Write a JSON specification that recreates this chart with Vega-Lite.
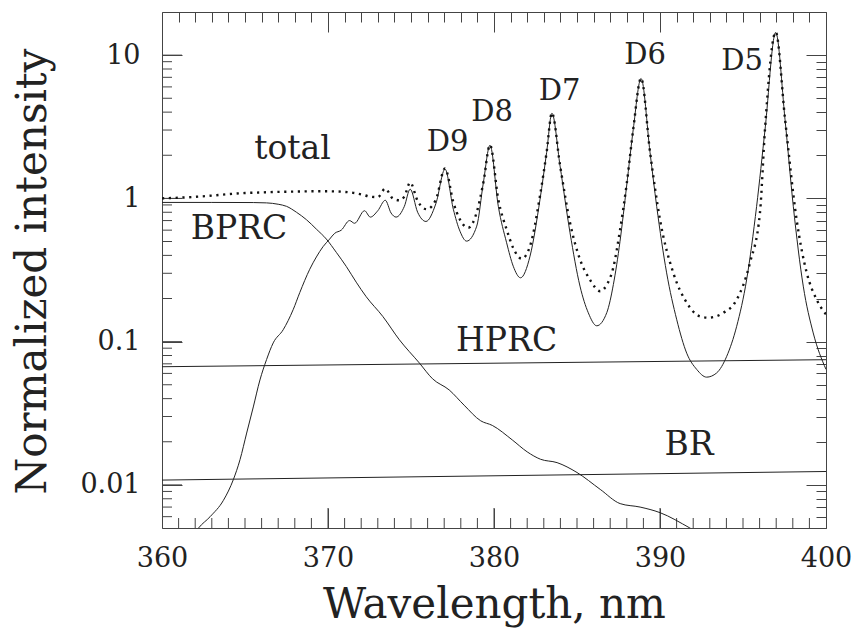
{
  "$schema": "https://vega.github.io/schema/vega-lite/v6.json",
  "width": 664,
  "height": 516,
  "autosize": {"type": "none"},
  "padding": {"left": 162, "top": 12, "right": 32, "bottom": 102},
  "background": "white",
  "config": {
    "view": {"stroke": null},
    "axis": {
      "grid": false,
      "domainColor": "#444",
      "tickColor": "#444",
      "domainWidth": 1,
      "tickWidth": 1,
      "labelFont": "DejaVu Serif",
      "titleFont": "DejaVu Serif",
      "labelColor": "#222",
      "titleColor": "#222",
      "titleFontWeight": "normal",
      "labelFlush": false,
      "labelOverlap": false
    }
  },
  "datasets": {
    "curves": [
      {"s": "main", "x": 361.8, "y": 0.0043},
      {"s": "main", "x": 362.2, "y": 0.005},
      {"s": "main", "x": 362.9, "y": 0.006},
      {"s": "main", "x": 363.7, "y": 0.0078},
      {"s": "main", "x": 364.3, "y": 0.0109},
      {"s": "main", "x": 364.7, "y": 0.015},
      {"s": "main", "x": 365.1, "y": 0.023},
      {"s": "main", "x": 365.5, "y": 0.035},
      {"s": "main", "x": 365.9, "y": 0.054},
      {"s": "main", "x": 366.3, "y": 0.075},
      {"s": "main", "x": 366.7, "y": 0.098},
      {"s": "main", "x": 367.3, "y": 0.121},
      {"s": "main", "x": 367.9, "y": 0.167},
      {"s": "main", "x": 368.3, "y": 0.22},
      {"s": "main", "x": 368.9, "y": 0.32},
      {"s": "main", "x": 369.3, "y": 0.39},
      {"s": "main", "x": 369.7, "y": 0.46},
      {"s": "main", "x": 370.1, "y": 0.52},
      {"s": "main", "x": 370.4, "y": 0.57},
      {"s": "main", "x": 370.8, "y": 0.6},
      {"s": "main", "x": 371.3, "y": 0.7},
      {"s": "main", "x": 371.6, "y": 0.67},
      {"s": "main", "x": 372.2, "y": 0.82},
      {"s": "main", "x": 372.55, "y": 0.74},
      {"s": "main", "x": 373.0, "y": 0.82},
      {"s": "main", "x": 373.45, "y": 0.97},
      {"s": "main", "x": 373.8, "y": 0.79},
      {"s": "main", "x": 374.1, "y": 0.74},
      {"s": "main", "x": 374.6, "y": 0.88},
      {"s": "main", "x": 374.95, "y": 1.16},
      {"s": "main", "x": 375.4, "y": 0.8},
      {"s": "main", "x": 375.9, "y": 0.69},
      {"s": "main", "x": 376.5, "y": 0.92},
      {"s": "main", "x": 377.05, "y": 1.6},
      {"s": "main", "x": 377.55, "y": 0.84},
      {"s": "main", "x": 377.95, "y": 0.59},
      {"s": "main", "x": 378.35, "y": 0.503},
      {"s": "main", "x": 378.96, "y": 0.64},
      {"s": "main", "x": 379.36, "y": 1.29},
      {"s": "main", "x": 379.76, "y": 2.35},
      {"s": "main", "x": 380.26, "y": 0.88},
      {"s": "main", "x": 380.76, "y": 0.49},
      {"s": "main", "x": 381.16, "y": 0.336},
      {"s": "main", "x": 381.6, "y": 0.279},
      {"s": "main", "x": 382.17, "y": 0.395},
      {"s": "main", "x": 382.77, "y": 0.98},
      {"s": "main", "x": 383.17, "y": 2.09},
      {"s": "main", "x": 383.49, "y": 3.93},
      {"s": "main", "x": 383.98, "y": 1.68},
      {"s": "main", "x": 384.58, "y": 0.575},
      {"s": "main", "x": 385.18, "y": 0.244},
      {"s": "main", "x": 385.68, "y": 0.159},
      {"s": "main", "x": 386.19, "y": 0.129},
      {"s": "main", "x": 386.8, "y": 0.16},
      {"s": "main", "x": 387.19, "y": 0.25},
      {"s": "main", "x": 387.59, "y": 0.5},
      {"s": "main", "x": 387.99, "y": 1.22},
      {"s": "main", "x": 388.39, "y": 3.04},
      {"s": "main", "x": 388.86, "y": 6.87},
      {"s": "main", "x": 389.4, "y": 2.09},
      {"s": "main", "x": 389.8, "y": 0.88},
      {"s": "main", "x": 390.4, "y": 0.302},
      {"s": "main", "x": 391.01, "y": 0.142},
      {"s": "main", "x": 391.61, "y": 0.083},
      {"s": "main", "x": 392.21, "y": 0.064},
      {"s": "main", "x": 392.81, "y": 0.0565},
      {"s": "main", "x": 393.41, "y": 0.0604},
      {"s": "main", "x": 394.02, "y": 0.079},
      {"s": "main", "x": 394.62, "y": 0.128},
      {"s": "main", "x": 395.22, "y": 0.271},
      {"s": "main", "x": 395.82, "y": 0.88},
      {"s": "main", "x": 396.33, "y": 3.04},
      {"s": "main", "x": 396.97, "y": 14.4},
      {"s": "main", "x": 397.53, "y": 3.57},
      {"s": "main", "x": 398.03, "y": 0.88},
      {"s": "main", "x": 398.63, "y": 0.244},
      {"s": "main", "x": 399.23, "y": 0.115},
      {"s": "main", "x": 400.0, "y": 0.064},
      {"s": "BPRC", "x": 360.0, "y": 0.937},
      {"s": "BPRC", "x": 363.0, "y": 0.937},
      {"s": "BPRC", "x": 365.5, "y": 0.935},
      {"s": "BPRC", "x": 366.3, "y": 0.93},
      {"s": "BPRC", "x": 367.0, "y": 0.91},
      {"s": "BPRC", "x": 367.5, "y": 0.88},
      {"s": "BPRC", "x": 368.1, "y": 0.8},
      {"s": "BPRC", "x": 368.7, "y": 0.71},
      {"s": "BPRC", "x": 369.3, "y": 0.61},
      {"s": "BPRC", "x": 369.9, "y": 0.52},
      {"s": "BPRC", "x": 370.5, "y": 0.42},
      {"s": "BPRC", "x": 371.1, "y": 0.335},
      {"s": "BPRC", "x": 371.7, "y": 0.26},
      {"s": "BPRC", "x": 372.3, "y": 0.206},
      {"s": "BPRC", "x": 373.3, "y": 0.15},
      {"s": "BPRC", "x": 374.3, "y": 0.103},
      {"s": "BPRC", "x": 375.5, "y": 0.071},
      {"s": "BPRC", "x": 376.3, "y": 0.055},
      {"s": "BPRC", "x": 377.3, "y": 0.046},
      {"s": "BPRC", "x": 378.2, "y": 0.036},
      {"s": "BPRC", "x": 379.2, "y": 0.028},
      {"s": "BPRC", "x": 379.9, "y": 0.026},
      {"s": "BPRC", "x": 381.1, "y": 0.0206},
      {"s": "BPRC", "x": 382.0, "y": 0.017},
      {"s": "BPRC", "x": 382.8, "y": 0.0151},
      {"s": "BPRC", "x": 383.8, "y": 0.0143},
      {"s": "BPRC", "x": 385.0, "y": 0.0122},
      {"s": "BPRC", "x": 386.4, "y": 0.0093},
      {"s": "BPRC", "x": 387.6, "y": 0.0074},
      {"s": "BPRC", "x": 388.8, "y": 0.007},
      {"s": "BPRC", "x": 390.0, "y": 0.0064},
      {"s": "BPRC", "x": 391.8, "y": 0.005},
      {"s": "BPRC", "x": 392.5, "y": 0.0045},
      {"s": "HPRC", "x": 360.0, "y": 0.0668},
      {"s": "HPRC", "x": 400.0, "y": 0.0748},
      {"s": "BR", "x": 360.0, "y": 0.0108},
      {"s": "BR", "x": 400.0, "y": 0.0124}
    ],
    "total": [
      {"x": 360.0, "y": 1.0},
      {"x": 361.0, "y": 1.01},
      {"x": 362.0, "y": 1.025},
      {"x": 363.0, "y": 1.045},
      {"x": 364.0, "y": 1.07},
      {"x": 365.0, "y": 1.09},
      {"x": 366.0, "y": 1.1},
      {"x": 367.0, "y": 1.11},
      {"x": 368.0, "y": 1.115},
      {"x": 369.0, "y": 1.12},
      {"x": 370.0, "y": 1.12},
      {"x": 371.0, "y": 1.11},
      {"x": 371.6, "y": 1.09},
      {"x": 372.1, "y": 1.06},
      {"x": 372.5, "y": 1.03},
      {"x": 373.0, "y": 1.02},
      {"x": 373.45, "y": 1.17},
      {"x": 373.9, "y": 1.0},
      {"x": 374.3, "y": 0.97},
      {"x": 374.6, "y": 1.03},
      {"x": 374.95, "y": 1.29},
      {"x": 375.4, "y": 0.96},
      {"x": 375.95, "y": 0.84},
      {"x": 376.5, "y": 0.98},
      {"x": 377.05, "y": 1.62},
      {"x": 377.55, "y": 0.94},
      {"x": 377.95, "y": 0.71},
      {"x": 378.45, "y": 0.624},
      {"x": 378.96, "y": 0.8},
      {"x": 379.36, "y": 1.29},
      {"x": 379.76, "y": 2.36},
      {"x": 380.26, "y": 0.98},
      {"x": 380.76, "y": 0.607},
      {"x": 381.16, "y": 0.45},
      {"x": 381.67, "y": 0.379},
      {"x": 382.17, "y": 0.464},
      {"x": 382.77, "y": 1.04},
      {"x": 383.17, "y": 2.1},
      {"x": 383.49, "y": 3.95},
      {"x": 383.98, "y": 1.7},
      {"x": 384.58, "y": 0.676},
      {"x": 385.18, "y": 0.375},
      {"x": 385.78, "y": 0.271},
      {"x": 386.39, "y": 0.225},
      {"x": 386.8, "y": 0.25},
      {"x": 387.19, "y": 0.33},
      {"x": 387.59, "y": 0.6},
      {"x": 387.99, "y": 1.25},
      {"x": 388.39, "y": 3.05},
      {"x": 388.86, "y": 6.9},
      {"x": 389.4, "y": 2.1},
      {"x": 390.0, "y": 0.71},
      {"x": 390.8, "y": 0.302},
      {"x": 391.61, "y": 0.187},
      {"x": 392.41, "y": 0.15},
      {"x": 392.91, "y": 0.147},
      {"x": 393.82, "y": 0.159},
      {"x": 394.62, "y": 0.196},
      {"x": 395.42, "y": 0.355},
      {"x": 396.02, "y": 0.79},
      {"x": 396.33, "y": 3.1},
      {"x": 396.97, "y": 14.5},
      {"x": 397.53, "y": 3.6},
      {"x": 398.23, "y": 0.71},
      {"x": 398.84, "y": 0.302},
      {"x": 399.44, "y": 0.196},
      {"x": 400.0, "y": 0.155}
    ],
    "dlabels": [
      {"label": "D9", "x": 377.2, "y": 2.14},
      {"label": "D8", "x": 379.88, "y": 3.47},
      {"label": "D7", "x": 383.95, "y": 4.85},
      {"label": "D6", "x": 389.1, "y": 8.65},
      {"label": "D5", "x": 394.94, "y": 7.85}
    ],
    "nlabels": [
      {"label": "total", "x": 367.86, "y": 1.874},
      {"label": "BPRC", "x": 364.64, "y": 0.517},
      {"label": "HPRC", "x": 380.76, "y": 0.0856},
      {"label": "BR", "x": 391.75, "y": 0.0162}
    ],
    "xmajor": [{"x": 370}, {"x": 380}, {"x": 390}],
    "xminor": [
      {"x": 361}, {"x": 362}, {"x": 363}, {"x": 364}, {"x": 365}, {"x": 366}, {"x": 367}, {"x": 368}, {"x": 369},
      {"x": 371}, {"x": 372}, {"x": 373}, {"x": 374}, {"x": 375}, {"x": 376}, {"x": 377}, {"x": 378}, {"x": 379},
      {"x": 381}, {"x": 382}, {"x": 383}, {"x": 384}, {"x": 385}, {"x": 386}, {"x": 387}, {"x": 388}, {"x": 389},
      {"x": 391}, {"x": 392}, {"x": 393}, {"x": 394}, {"x": 395}, {"x": 396}, {"x": 397}, {"x": 398}, {"x": 399}
    ],
    "ymajor": [{"y": 0.01}, {"y": 0.1}, {"y": 1}, {"y": 10}],
    "yminor": [
      {"y": 0.006}, {"y": 0.007}, {"y": 0.008}, {"y": 0.009},
      {"y": 0.02}, {"y": 0.03}, {"y": 0.04}, {"y": 0.05}, {"y": 0.06}, {"y": 0.07}, {"y": 0.08}, {"y": 0.09},
      {"y": 0.2}, {"y": 0.3}, {"y": 0.4}, {"y": 0.5}, {"y": 0.6}, {"y": 0.7}, {"y": 0.8}, {"y": 0.9},
      {"y": 2}, {"y": 3}, {"y": 4}, {"y": 5}, {"y": 6}, {"y": 7}, {"y": 8}, {"y": 9}
    ]
  },
  "layer": [
    {
      "data": {"name": "dlabels"},
      "mark": {"type": "text", "font": "DejaVu Serif", "fontSize": 29, "color": "#222", "align": "center", "baseline": "alphabetic"},
      "encoding": {
        "x": {
          "field": "x", "type": "quantitative",
          "scale": {"domain": [360, 400], "nice": false, "zero": false},
          "axis": {
            "orient": "bottom", "values": [360, 370, 380, 390, 400], "tickSize": -20,
            "labelPadding": 37, "labelFontSize": 27, "labelBaseline": "top",
            "title": "Wavelength, nm", "titleFontSize": 42, "titleX": 332, "titleY": 89,
            "titleBaseline": "alphabetic", "titleAnchor": "middle", "titleAlign": "center"
          }
        },
        "y": {
          "field": "y", "type": "quantitative",
          "scale": {"type": "log", "domain": [0.005, 20], "nice": false},
          "axis": {
            "orient": "left", "values": [0.01, 0.1, 1, 10], "format": "~g", "tickSize": -20,
            "labelPadding": 42, "labelFontSize": 27,
            "title": "Normalized intensity", "titleFontSize": 42, "titleX": -117, "titleY": 259,
            "titleAngle": -90, "titleBaseline": "alphabetic", "titleAlign": "center"
          }
        },
        "text": {"field": "label", "type": "nominal"}
      }
    },
    {
      "data": {"name": "nlabels"},
      "mark": {"type": "text", "font": "DejaVu Serif", "fontSize": 33, "color": "#222", "align": "center", "baseline": "alphabetic"},
      "encoding": {
        "x": {
          "field": "x", "type": "quantitative",
          "scale": {"domain": [360, 400], "nice": false, "zero": false},
          "axis": {"orient": "top", "values": [360, 370, 380, 390, 400], "tickSize": -20, "labels": false, "title": null}
        },
        "y": {
          "field": "y", "type": "quantitative",
          "scale": {"type": "log", "domain": [0.005, 20], "nice": false},
          "axis": {"orient": "right", "values": [0.01, 0.1, 1, 10], "tickSize": -20, "labels": false, "title": null}
        },
        "text": {"field": "label", "type": "nominal"}
      }
    },
    {
      "data": {"name": "nlabels"},
      "mark": {"type": "text", "opacity": 0, "fontSize": 33, "baseline": "alphabetic"},
      "encoding": {
        "x": {
          "field": "x", "type": "quantitative",
          "scale": {"domain": [360, 400], "nice": false, "zero": false},
          "axis": {
            "orient": "top", "tickSize": -10, "domain": false, "labels": false, "title": null,
            "values": [361,362,363,364,365,366,367,368,369,371,372,373,374,375,376,377,378,379,381,382,383,384,385,386,387,388,389,391,392,393,394,395,396,397,398,399]
          }
        },
        "y": {
          "field": "y", "type": "quantitative",
          "scale": {"type": "log", "domain": [0.005, 20], "nice": false},
          "axis": {
            "orient": "right", "tickSize": -10, "domain": false, "labels": false, "title": null,
            "values": [0.005,0.006,0.007,0.008,0.009,0.02,0.03,0.04,0.05,0.06,0.07,0.08,0.09,0.2,0.3,0.4,0.5,0.6,0.7,0.8,0.9,2,3,4,5,6,7,8,9,20]
          }
        },
        "text": {"field": "label", "type": "nominal"}
      }
    },
    {
      "data": {"name": "xmajor"},
      "mark": {"type": "tick", "orient": "vertical", "size": 20, "thickness": 1, "color": "#444", "opacity": 1, "yOffset": -10},
      "encoding": {
        "x": {"field": "x", "type": "quantitative", "scale": {"domain": [360, 400], "nice": false, "zero": false}, "axis": null},
        "y": {"datum": 0.005, "type": "quantitative", "scale": {"type": "log", "domain": [0.005, 20], "nice": false}, "axis": null}
      }
    },
    {
      "data": {"name": "xminor"},
      "mark": {"type": "tick", "orient": "vertical", "size": 10, "thickness": 1, "color": "#444", "opacity": 1, "yOffset": -5},
      "encoding": {
        "x": {"field": "x", "type": "quantitative", "scale": {"domain": [360, 400], "nice": false, "zero": false}, "axis": null},
        "y": {"datum": 0.005, "type": "quantitative", "scale": {"type": "log", "domain": [0.005, 20], "nice": false}, "axis": null}
      }
    },
    {
      "data": {"name": "ymajor"},
      "mark": {"type": "tick", "orient": "horizontal", "size": 20, "thickness": 1, "color": "#444", "opacity": 1, "xOffset": 10},
      "encoding": {
        "x": {"datum": 360, "type": "quantitative", "scale": {"domain": [360, 400], "nice": false, "zero": false}, "axis": null},
        "y": {"field": "y", "type": "quantitative", "scale": {"type": "log", "domain": [0.005, 20], "nice": false}, "axis": null}
      }
    },
    {
      "data": {"name": "yminor"},
      "mark": {"type": "tick", "orient": "horizontal", "size": 10, "thickness": 1, "color": "#444", "opacity": 1, "xOffset": 5},
      "encoding": {
        "x": {"datum": 360, "type": "quantitative", "scale": {"domain": [360, 400], "nice": false, "zero": false}, "axis": null},
        "y": {"field": "y", "type": "quantitative", "scale": {"type": "log", "domain": [0.005, 20], "nice": false}, "axis": null}
      }
    },
    {
      "data": {"name": "curves"},
      "mark": {"type": "line", "color": "#222", "strokeWidth": 1, "clip": true, "interpolate": "monotone"},
      "encoding": {
        "x": {"field": "x", "type": "quantitative", "scale": {"domain": [360, 400], "nice": false, "zero": false}, "axis": null},
        "y": {"field": "y", "type": "quantitative", "scale": {"type": "log", "domain": [0.005, 20], "nice": false}, "axis": null},
        "detail": {"field": "s", "type": "nominal"},
        "order": {"field": "x", "type": "quantitative"}
      }
    },
    {
      "data": {"name": "total"},
      "mark": {"type": "line", "color": "#111", "strokeWidth": 2.4, "strokeDash": [2.2, 4.6], "clip": true, "interpolate": "monotone"},
      "encoding": {
        "x": {"field": "x", "type": "quantitative", "scale": {"domain": [360, 400], "nice": false, "zero": false}, "axis": null},
        "y": {"field": "y", "type": "quantitative", "scale": {"type": "log", "domain": [0.005, 20], "nice": false}, "axis": null},
        "order": {"field": "x", "type": "quantitative"}
      }
    }
  ],
  "resolve": {"axis": {"x": "independent", "y": "independent"}}
}
